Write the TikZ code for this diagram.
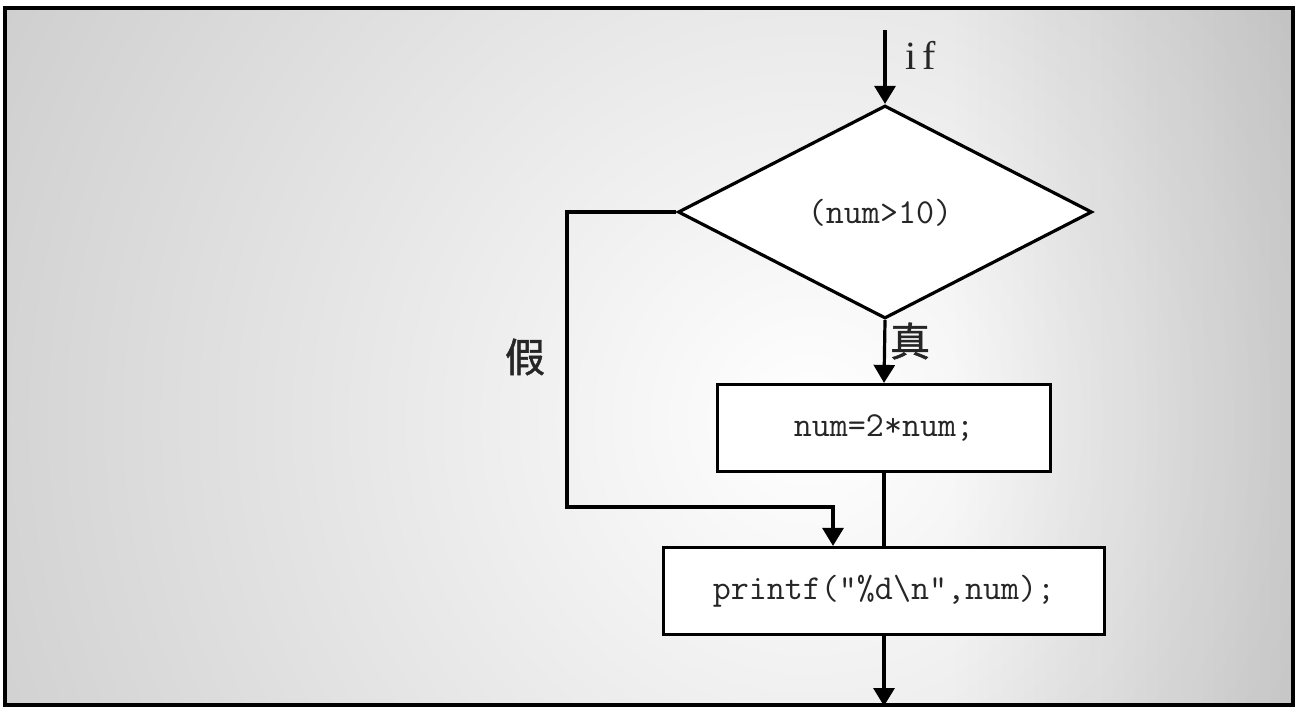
\documentclass[tikz,border=0pt]{standalone}
\usepackage{fontspec}
\usetikzlibrary{shapes.geometric,arrows.meta,positioning,fadings}

\newfontfamily\cjkfont{Noto Sans CJK TC}[FakeBold=1.2]
\newfontfamily\keyfont{Liberation Serif}[LetterSpace=15]

\tikzfading[name=darkright, left color=transparent!100, right color=transparent!0]

\begin{document}
\begin{tikzpicture}[x=1pt, y=-1pt,
    decision/.style={diamond, draw, fill=white, line width=3.2pt, inner sep=0pt,
        minimum width=414pt, minimum height=213pt},
    process/.style={rectangle, draw, fill=white, line width=3.2pt, inner sep=0pt},
    flow/.style={line width=3.2pt, -{Triangle[length=18pt,width=21pt]}},
    code/.style={font=\ttfamily\fontsize{35}{40}\selectfont, text=black!85},
    answer/.style={font=\cjkfont\fontsize{40}{44}\selectfont, text=black!85}]

    % Fix the size of the picture
    \useasboundingbox (0,0) rectangle (1297,707);

    % Define the gray background with a light centre
    \begin{scope}
        \clip (5,8) rectangle (1293,705);
        \fill[black!25] (0,0) rectangle (1297,707);
        \shade[inner color=white, outer color=black!25] (810,420) circle (1200);
        \fill[black, opacity=0.12, path fading=darkright] (950,0) rectangle (1297,707);
    \end{scope}
    \draw[line width=4pt] (5,8) rectangle (1293,705);

    % Draw the nodes of the flow chart
    \node[decision] (test) at (885,212) {};
    \node[code] (testtext) at (880,213) {(num>10)};
    \node[process, code, minimum width=333pt, minimum height=87pt] (double) at (884,428) {num=2*num;};
    \node[process, code, minimum width=441pt, minimum height=87pt] (print) at (884,591)
        {printf("\%d\textbackslash n",num);};

    % Label the entry and the two branches
    \node[font=\keyfont\fontsize{40}{44}\selectfont, text=black!85] (iflabel) at (921,55) {if};
    \node[answer] (truelabel) at (910,341) {真};
    \node[answer] (falselabel) at (525,357) {假};

    % Free ends of the connectors
    \coordinate (start) at (885,30);
    \coordinate (bend) at (567,507);
    \coordinate (exit) at (884,706);

    % Draw the connectors
    \draw[flow] (start) -- (test.north);
    \draw[flow] (test.south) -- (double.north);
    \draw[line width=3.2pt] (double.south) -- (print.north);
    \draw[flow] (test.west) -| (bend) -| ([xshift=-51pt]print.north);
    \draw[flow] (print.south) -- (exit);

\end{tikzpicture}
\end{document}
